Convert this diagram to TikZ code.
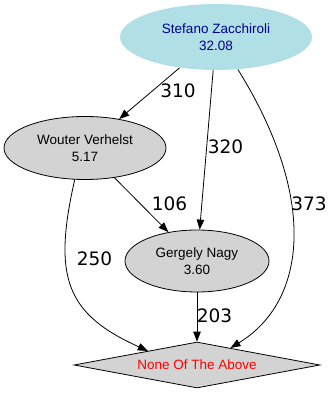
\documentclass[tikz,border=0pt]{standalone}
\usepackage{fontspec}
\setmainfont{Liberation Sans}
\newfontfamily\lblfont{DejaVu Sans}
\usetikzlibrary{shapes.geometric,arrows.meta}
\definecolor{nodegray}{RGB}{211,211,211}
\definecolor{szblue}{RGB}{176,224,230}
\definecolor{sztext}{RGB}{0,0,139}
\begin{document}
\begin{tikzpicture}[x=1pt,y=1pt,line width=0.8pt,>={Triangle[length=10pt,width=7.5pt]},
	person/.style={ellipse,draw,fill=nodegray,inner sep=0pt,align=center,
		font=\fontsize{13.5}{17}\selectfont},
	weight/.style={font=\lblfont\fontsize{18.5}{20}\selectfont,inner sep=0pt}]
	\useasboundingbox (0,0) rectangle (335,395);
	% nodes
	\node[person,draw=none,fill=szblue,text=sztext,minimum width=192pt,minimum height=66pt]
		(sz) at (216,358) {Stefano Zacchiroli\\32.08};
	\node[person,minimum width=162pt,minimum height=63pt] (wv) at (85,247) {Wouter Verhelst\\5.17};
	\node[person,minimum width=144pt,minimum height=62pt] (gn) at (197,134) {Gergely Nagy\\3.60};
	\node[diamond,draw,fill=nodegray,text=red,aspect=5.3,inner sep=0pt,
		minimum width=246pt,minimum height=46pt,font=\fontsize{13.5}{17}\selectfont]
		(nota) at (197,30) {None Of The Above};
	% edges
	\draw[->] (sz) -- (wv);
	\draw[->] (sz) -- (gn);
	\draw[->] (sz.-56) .. controls (319,195) and (306,93) .. (nota.27);
	\draw[->] (wv) -- (gn);
	\draw[->] (wv.-108) .. controls (52.5,117.6) and (66,81) .. (nota.164);
	\draw[->] (gn) -- (nota);
	% weights
	\node[weight] (w310) at (178,304) {310};
	\node[weight] (w320) at (225.5,248) {320};
	\node[weight] (w373) at (309,191.5) {373};
	\node[weight] (w106) at (169.5,191.5) {106};
	\node[weight] (w250) at (94.5,136) {250};
	\node[weight] (w203) at (214.5,79.5) {203};
\end{tikzpicture}
\end{document}
